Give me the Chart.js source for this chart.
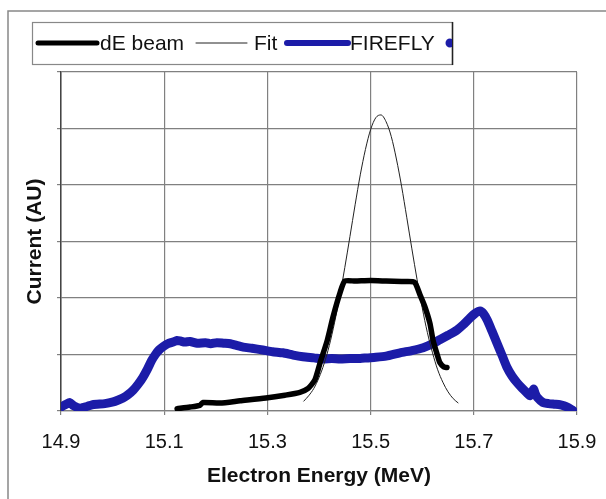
<!DOCTYPE html>
<html>
<head>
<meta charset="utf-8">
<script src="https://cdn.jsdelivr.net/npm/chart.js@4"></script>
<style>
html, body { margin: 0; padding: 0; background: #fff; }
#wrap { width: 606px; height: 499px; }
</style>
</head>
<body>
<div id="wrap"><canvas id="chart" width="606" height="499"></canvas></div>
<script>
// x axis tick labels (MeV)
const xTicks = [14.9, 15.1, 15.3, 15.5, 15.7, 15.9];

// dE beam
const beamEnergy = [15.125, 15.150, 15.169, 15.175, 15.208, 15.247, 15.297, 15.334, 15.363, 15.379, 15.392,
    15.402, 15.416, 15.427, 15.441, 15.450, 15.470, 15.500, 15.530, 15.560, 15.585,
    15.596, 15.605, 15.615, 15.621, 15.629, 15.634, 15.642, 15.648];
const beamCurrent = [0.04, 0.07, 0.10, 0.15, 0.14, 0.18, 0.23, 0.28, 0.33, 0.40, 0.55,
    0.85, 1.25, 1.66, 2.10, 2.30, 2.30, 2.31, 2.30, 2.29, 2.28,
    2.05, 1.85, 1.55, 1.25, 1.00, 0.86, 0.78, 0.77];

// Fit
const fitEnergy = [15.37, 15.38, 15.39, 15.40, 15.41, 15.42, 15.43, 15.44, 15.45, 15.46, 15.47, 15.48,
    15.49, 15.50, 15.51, 15.52, 15.53, 15.54, 15.55, 15.56, 15.57, 15.58, 15.59, 15.60,
    15.61, 15.62, 15.63, 15.64, 15.65, 15.66, 15.67];
const fitCurrent = [0.17, 0.27, 0.40, 0.59, 0.84, 1.16, 1.56, 2.02, 2.54, 3.09, 3.65, 4.18,
    4.63, 4.98, 5.19, 5.24, 5.12, 4.86, 4.46, 3.98, 3.43, 2.87, 2.33, 1.83,
    1.39, 1.03, 0.73, 0.51, 0.34, 0.22, 0.14];

// FIREFLY
const fireflyEnergy = [14.902, 14.910, 14.917, 14.925, 14.937, 14.950, 14.960, 14.970, 14.985, 15.001,
    15.010, 15.020, 15.030, 15.040, 15.050, 15.059, 15.068, 15.076, 15.083, 15.090,
    15.098, 15.107, 15.117, 15.125, 15.131, 15.140, 15.150, 15.164, 15.180, 15.190,
    15.202, 15.215, 15.228, 15.240, 15.253, 15.270, 15.291, 15.310, 15.330, 15.350,
    15.369, 15.390, 15.408, 15.425, 15.441, 15.460, 15.480, 15.493, 15.510, 15.530,
    15.557, 15.580, 15.602, 15.620, 15.634, 15.650, 15.667, 15.680, 15.693, 15.703,
    15.712, 15.719, 15.726, 15.735, 15.745, 15.755, 15.764, 15.774, 15.784, 15.794,
    15.803, 15.809, 15.813, 15.816, 15.819, 15.823, 15.834, 15.845, 15.856, 15.867,
    15.875, 15.881, 15.887, 15.892];
const fireflyCurrent = [0.08, 0.12, 0.15, 0.09, 0.05, 0.08, 0.11, 0.12, 0.13, 0.16,
    0.19, 0.23, 0.29, 0.37, 0.48, 0.60, 0.75, 0.90, 1.00, 1.08,
    1.14, 1.19, 1.22, 1.25, 1.24, 1.22, 1.23, 1.20, 1.21, 1.19,
    1.21, 1.20, 1.19, 1.16, 1.13, 1.11, 1.08, 1.05, 1.03, 0.99,
    0.96, 0.94, 0.92, 0.93, 0.92, 0.93, 0.93, 0.94, 0.95, 0.97,
    1.03, 1.07, 1.12, 1.19, 1.26, 1.34, 1.43, 1.53, 1.65, 1.73,
    1.77, 1.72, 1.61, 1.42, 1.20, 0.98, 0.78, 0.62, 0.50, 0.40,
    0.32, 0.27, 0.33, 0.39, 0.31, 0.24, 0.15, 0.13, 0.12, 0.11,
    0.09, 0.07, 0.04, 0.01];

const toPoints = (xs, ys) => xs.map((x, i) => ({ x: x, y: ys[i] }));
const FONT = "'Liberation Sans', Arial, Helvetica, sans-serif";
const BLUE = '#1c1ca8';

// outer frame round the whole chart
const framePlugin = {
    id: 'frame',
    beforeDraw(chart) {
        const ctx = chart.ctx;
        ctx.save();
        ctx.fillStyle = '#fff';
        ctx.fillRect(0, 0, chart.width, chart.height);
        ctx.strokeStyle = '#888';
        ctx.lineWidth = 1.5;
        ctx.strokeRect(8, 11, 700, 600);
        ctx.restore();
    }
};

// boxed legend, drawn by hand like the original
const legendPlugin = {
    id: 'boxLegend',
    afterDraw(chart) {
        const ctx = chart.ctx;
        const ds = chart.data.datasets;
        const y = 43;
        ctx.save();
        ctx.fillStyle = '#fff';
        ctx.fillRect(32, 22, 420, 42);
        ctx.strokeStyle = '#888';
        ctx.lineWidth = 1.2;
        ctx.strokeRect(32.5, 22.5, 420, 42);
        ctx.strokeStyle = '#222';
        ctx.lineWidth = 1.5;
        ctx.beginPath();
        ctx.moveTo(452.5, 22);
        ctx.lineTo(452.5, 65);
        ctx.stroke();

        const items = [
            { x0: 38, x1: 97, tx: 100, w: 5 },
            { x0: 196, x1: 247, tx: 254, w: 1 },
            { x0: 287, x1: 348, tx: 350, w: 6 }
        ];
        ctx.font = '21px ' + FONT;
        ctx.textBaseline = 'middle';
        items.forEach((it, i) => {
            ctx.strokeStyle = ds[i].borderColor;
            ctx.lineWidth = it.w;
            ctx.lineCap = 'round';
            ctx.beginPath();
            ctx.moveTo(it.x0, y);
            ctx.lineTo(it.x1, y);
            ctx.stroke();
            ctx.fillStyle = '#111';
            ctx.fillText(ds[i].label, it.tx, y + 1);
        });
        // clipped marker of the fourth entry
        ctx.beginPath();
        ctx.rect(440, 22, 12, 42);
        ctx.clip();
        ctx.fillStyle = BLUE;
        ctx.beginPath();
        ctx.arc(450, y, 4.5, 0, Math.PI * 2);
        ctx.fill();
        ctx.restore();
    }
};

new Chart(document.getElementById('chart'), {
    type: 'line',
    data: {
        datasets: [
            {
                label: 'dE beam',
                data: toPoints(beamEnergy, beamCurrent),
                borderColor: '#000',
                borderWidth: 5.5,
                borderCapStyle: 'round',
                tension: 0.2,
                pointRadius: 0
            },
            {
                label: 'Fit',
                data: toPoints(fitEnergy, fitCurrent),
                borderColor: '#222',
                borderWidth: 1,
                cubicInterpolationMode: 'monotone',
                pointRadius: 0
            },
            {
                label: 'FIREFLY',
                data: toPoints(fireflyEnergy, fireflyCurrent),
                borderColor: BLUE,
                borderWidth: 9,
                borderCapStyle: 'round',
                borderJoinStyle: 'round',
                tension: 0.2,
                pointRadius: 0
            }
        ]
    },
    options: {
        responsive: false,
        animation: false,
        layout: { padding: { top: 72, right: 29, bottom: 4, left: 20 } },
        plugins: {
            legend: { display: false },
            tooltip: { enabled: false }
        },
        scales: {
            x: {
                type: 'linear',
                min: 14.9,
                max: 15.9,
                afterBuildTicks: scale => { scale.ticks = xTicks.map(v => ({ value: v })); },
                afterFit: scale => {
                    scale.height = 84;
                    // labels fit inside the margins already
                    scale.paddingLeft = 0;
                    scale.paddingRight = 0;
                },
                ticks: {
                    callback: v => v.toFixed(1),
                    color: '#111',
                    font: { family: FONT, size: 20 },
                    padding: 15,
                    maxRotation: 0
                },
                grid: { color: '#808080', lineWidth: 1.2, tickLength: 4 },
                border: { color: '#808080', width: 1.2 },
                title: {
                    display: true,
                    text: 'Electron Energy (MeV)',
                    color: '#111',
                    font: { family: FONT, size: 21, weight: 'bold' },
                    padding: { top: 4, bottom: 6 }
                }
            },
            y: {
                min: 0,
                max: 6,
                ticks: { stepSize: 1, display: false },
                afterFit: scale => { scale.width = 41; },
                grid: { color: '#808080', lineWidth: 1.2, tickLength: 4 },
                border: { color: '#444', width: 1.5 },
                title: {
                    display: true,
                    text: 'Current (AU)',
                    color: '#111',
                    font: { family: FONT, size: 21, weight: 'bold' },
                    padding: { top: 3, bottom: 9 }
                }
            }
        }
    },
    plugins: [framePlugin, legendPlugin]
});
</script>
</body>
</html>
